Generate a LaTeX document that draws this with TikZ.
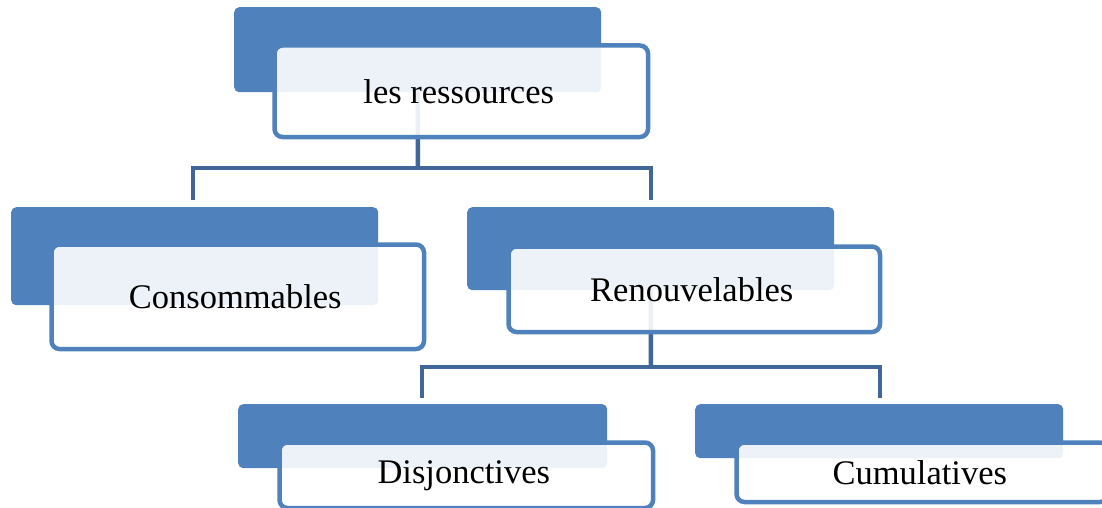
\documentclass[tikz,border=0pt]{standalone}
\usepackage{fontspec}
\setmainfont{Liberation Serif}
\begin{document}
\definecolor{boxblue}{RGB}{79,129,189}
\definecolor{linkblue}{RGB}{65,103,154}
\begin{tikzpicture}[x=1pt,y=-1pt,
  backbox/.style={rectangle, rounded corners=5pt, fill=boxblue, draw=none,
    anchor=north west, inner sep=0pt},
  frontbox/.style={rectangle, rounded corners=8pt, draw=boxblue, line width=4.5pt,
    fill=white, fill opacity=0.9, text opacity=1, inner sep=0pt, anchor=north west,
    font=\fontsize{34.5}{40}\selectfont, execute at begin node=\hspace*{-5pt}},
  conn/.style={draw=linkblue, line width=4.5pt}]
\useasboundingbox (0,0) rectangle (1102,508);

% anchor points of the tree links
\coordinate (rootC) at (417.5,49.5);
\coordinate (renC)  at (650.5,248);
\coordinate (j1) at (418,168);
\coordinate (j2) at (651,367);

% connectors, placed behind the boxes
\draw[conn] (rootC) -- (j1);
\draw[conn] (193,200) |- (j1) -| (651,200);
\draw[conn] (renC) -- (j2);
\draw[conn] (422,398) |- (j2) -| (880,398);

% back tabs
\node[backbox, minimum width=367pt, minimum height=85pt] (rootB) at (234,7) {};
\node[backbox, minimum width=367pt, minimum height=98pt] (consB) at (11,207) {};
\node[backbox, minimum width=367pt, minimum height=83pt] (renB)  at (467,207) {};
\node[backbox, minimum width=369pt, minimum height=64pt] (disB)  at (238,404) {};
\node[backbox, minimum width=368pt, minimum height=54pt] (cumB)  at (695,404) {};

% front labelled boxes
\node[frontbox, minimum width=373.5pt, minimum height=91.5pt] (root) at (272.25,43.25) {les ressources};
\node[frontbox, minimum width=372.5pt, minimum height=104.5pt] (cons) at (49.25,242.25) {Consommables};
\node[frontbox, minimum width=371.5pt, minimum height=85.5pt] (ren)  at (506.25,244.25) {Renouvelables};
\node[frontbox, minimum width=373.5pt, minimum height=65.5pt] (dis)  at (277.25,440.25) {Disjonctives};
\node[frontbox, minimum width=371.5pt, minimum height=59.5pt] (cum)  at (734.25,440.25) {Cumulatives};
\end{tikzpicture}
\end{document}
